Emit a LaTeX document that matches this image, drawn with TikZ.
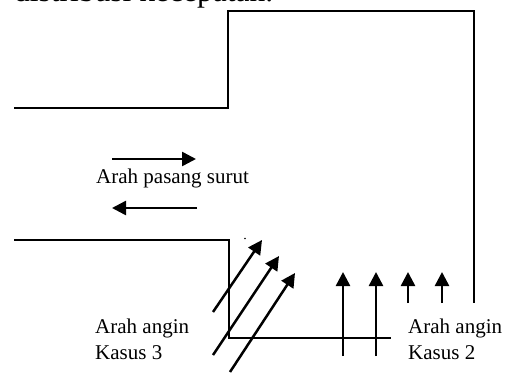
\documentclass[tikz,border=0pt]{standalone}
\usepackage{fontspec}
\setmainfont{Liberation Serif}
\usetikzlibrary{arrows.meta}
\tikzset{
  wall/.style={line width=2pt},
  windarrow/.style={line width=2.5pt,-{Triangle[length=14pt,width=14pt]}},
  lbl/.style={anchor=base west,inner sep=0pt,font=\fontsize{21}{25}\selectfont}
}
\begin{document}
\begin{tikzpicture}[x=1pt,y=-1pt]
\useasboundingbox (0,0) rectangle (505,372);
% title (cut off at top)
\node[anchor=base west,inner sep=0pt,font=\fontsize{31.5}{36}\selectfont] (title) at (14,1.5) {distribusi kecepatan.};
% walls
\draw[wall] (14,108) -- (228,108) -- (228,11) -- (474,11) -- (474,303);
\draw[wall] (14,240) -- (229,240) -- (229,338) -- (391,338);
\fill (245,238.5) circle (0.9);
% tidal arrows
\coordinate (r1) at (112,159); \coordinate (r2) at (196,159);
\coordinate (l1) at (197,208); \coordinate (l2) at (112,208);
\draw[windarrow] (r1) -- (r2);
\draw[windarrow] (l1) -- (l2);
\node[lbl] (tide) at (96,183) {Arah pasang surut};
% case 3 arrows
\coordinate (a1) at (213,312); \coordinate (b1) at (262,240);
\coordinate (a2) at (213,355); \coordinate (b2) at (279,256);
\coordinate (a3) at (230,372); \coordinate (b3) at (295,273);
\draw[windarrow] (a1) -- (b1);
\draw[windarrow] (a2) -- (b2);
\draw[windarrow] (a3) -- (b3);
% case 2 arrows
\coordinate (c1) at (343,356); \coordinate (d1) at (343,272);
\coordinate (c2) at (376,356); \coordinate (d2) at (376,272);
\coordinate (c3) at (408,303); \coordinate (d3) at (408,272);
\coordinate (c4) at (442,303); \coordinate (d4) at (442,272);
\draw[windarrow] (c1) -- (d1);
\draw[windarrow] (c2) -- (d2);
\draw[windarrow] (c3) -- (d3);
\draw[windarrow] (c4) -- (d4);
% labels
\node[lbl] (k3a) at (95,333) {Arah angin};
\node[lbl] (k3b) at (95,359) {Kasus 3};
\node[lbl] (k2a) at (408,333) {Arah angin};
\node[lbl] (k2b) at (408,359) {Kasus 2};
\end{tikzpicture}
\end{document}
